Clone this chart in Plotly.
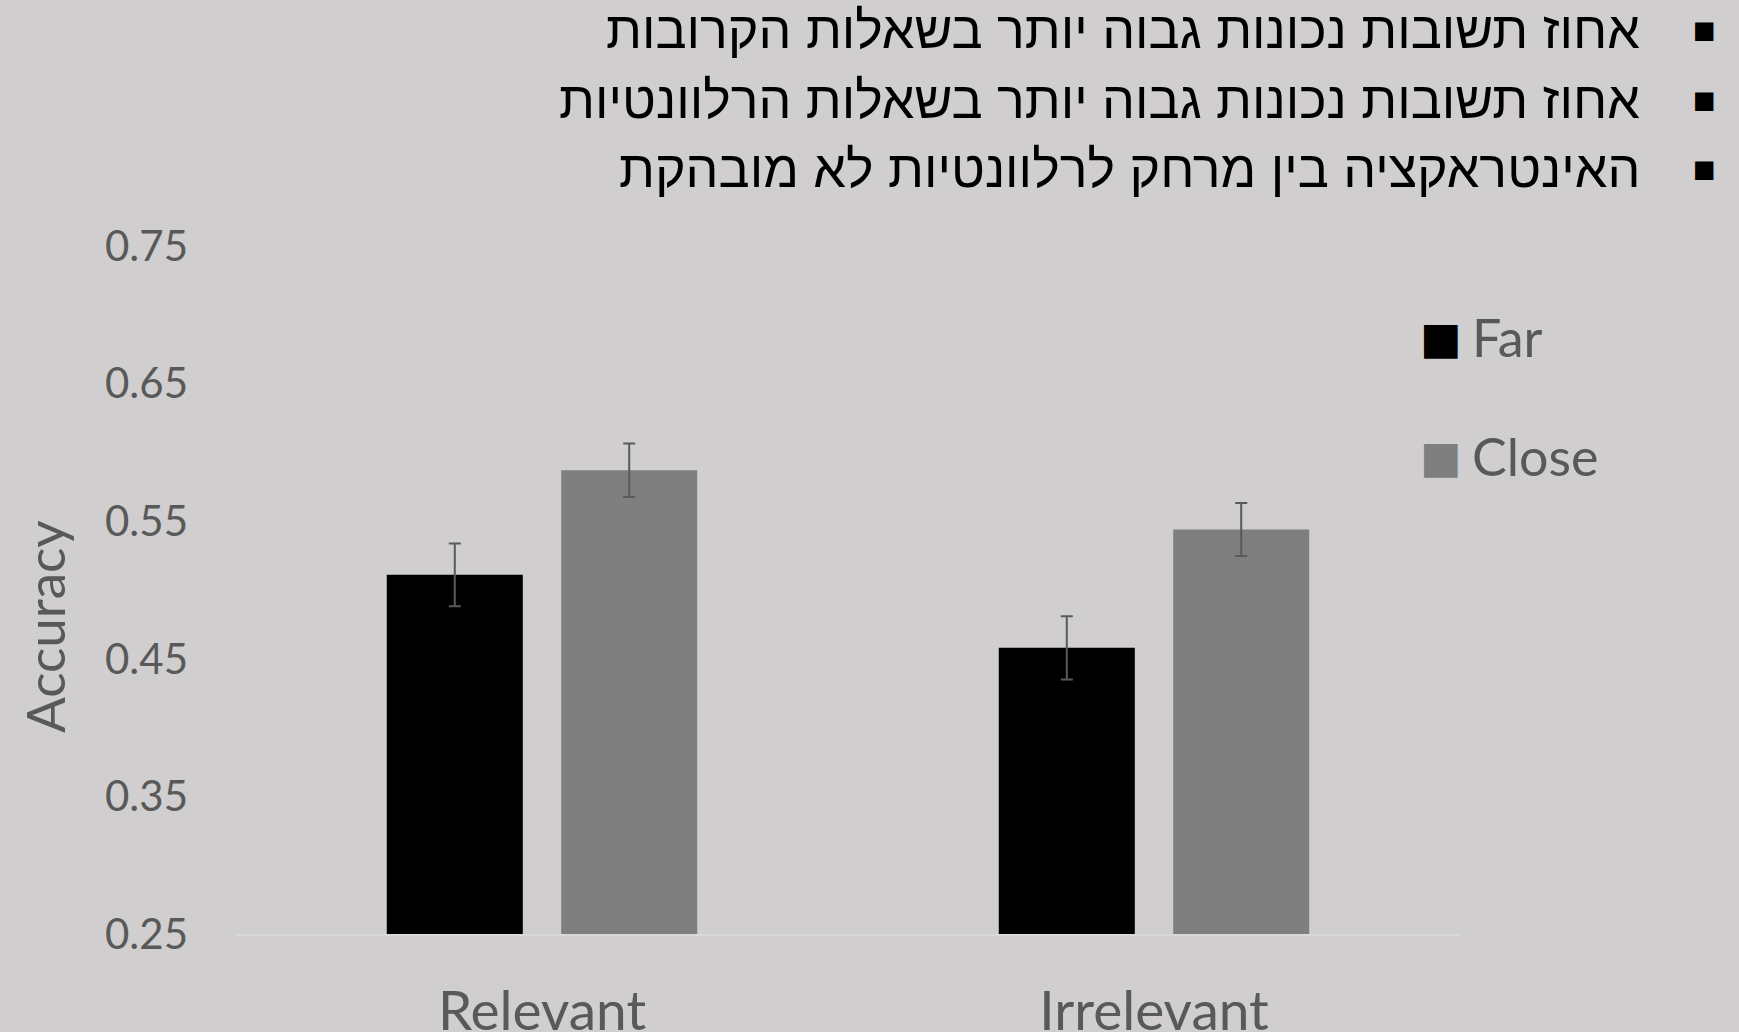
import plotly.graph_objects as go

categories = ["Relevant", "Irrelevant"]
far_values = [0.511, 0.458]
close_values = [0.587, 0.544]
far_err = [0.0228, 0.023]
close_err = [0.0194, 0.0192]
series_names = ["Far", "Close"]
series_colors = ["#000000", "#7F7F7F"]
y_ticks = [0.25, 0.35, 0.45, 0.55, 0.65, 0.75]
title_lines = [
    "אחוז תשובות נכונות גבוה יותר בשאלות הקרובות",
    "אחוז תשובות נכונות גבוה יותר בשאלות הרלוונטיות",
    "האינטראקציה בין מרחק לרלוונטיות לא מובהקת",
]

BG = "#D0CECE"
TXT = "#595959"

fig = go.Figure()
for name, vals, errs, col in zip(series_names, [far_values, close_values],
                                 [far_err, close_err], series_colors):
    fig.add_trace(go.Bar(
        x=categories, y=vals, name=name,
        marker=dict(color=col, line=dict(width=0)),
        error_y=dict(type="data", array=errs, visible=True,
                     color="#5a5a5a", thickness=2, width=6),
        showlegend=False,
    ))

W, H = 1739, 1032
L, R, T, B = 236, 279, 246, 98

fig.update_layout(
    width=W, height=H,
    paper_bgcolor=BG, plot_bgcolor=BG,
    margin=dict(l=L, r=R, t=T, b=B, pad=0, autoexpand=False),
    barmode="group", bargap=0.43, bargroupgap=0.22,
    font=dict(family="Lato", color=TXT),
    xaxis=dict(
        showgrid=False, zeroline=False, showline=True,
        linecolor="#D9D9D9", linewidth=1.5,
        tickfont=dict(family="Lato", size=55, color=TXT),
        ticks="", ticklabelstandoff=28, automargin=False,
        range=[-0.5, 1.5],
    ),
    yaxis=dict(
        range=[0.25, 0.75], tickvals=y_ticks,
        ticktext=[f"{v:.2f}" for v in y_ticks],
        showgrid=False, zeroline=False, showline=False,
        tickfont=dict(family="Lato", size=42, color=TXT),
        ticks="", ticklabelstandoff=47, automargin=False,
    ),
)

annotations = []
# Axis title
annotations.append(dict(
    text="Accuracy", xref="paper", yref="paper",
    x=(44 - L) / (W - L - R), y=(H - B - 627) / (H - T - B),
    showarrow=False, textangle=-90,
    font=dict(family="Lato", size=53, color=TXT),
    xanchor="center", yanchor="middle",
))

# Legend (manual)
leg_y = [337, 456]
for name, col, yy in zip(series_names, series_colors, leg_y):
    yp = (H - B - yy) / (H - T - B)
    annotations.append(dict(
        text="■", xref="paper", yref="paper",
        x=(1441 - L) / (W - L - R), y=yp, showarrow=False,
        font=dict(family="DejaVu Sans", size=44, color=col),
        xanchor="center", yanchor="middle",
    ))
    annotations.append(dict(
        text=name, xref="paper", yref="paper",
        x=(1470 - L) / (W - L - R), y=yp, showarrow=False,
        font=dict(family="Lato", size=52, color=TXT),
        xanchor="left", yanchor="middle",
    ))

# Title bullet lines
line_y = [30, 100, 169]
for txt, yy in zip(title_lines, line_y):
    yp = (H - B - yy) / (H - T - B)
    annotations.append(dict(
        text=txt, xref="paper", yref="paper",
        x=(1642 - L) / (W - L - R), y=yp, showarrow=False,
        font=dict(family="Liberation Sans", size=52, color="#000000"),
        xanchor="right", yanchor="middle",
    ))
    annotations.append(dict(
        text="■", xref="paper", yref="paper",
        x=(1704 - L) / (W - L - R), y=yp, showarrow=False,
        font=dict(family="DejaVu Sans", size=24, color="#000000"),
        xanchor="center", yanchor="middle",
    ))

fig.update_layout(annotations=annotations)
fig.write_html("out.html", config=dict(displayModeBar=False),
               post_script="document.body.style.margin='0';document.body.style.overflow='hidden';")
